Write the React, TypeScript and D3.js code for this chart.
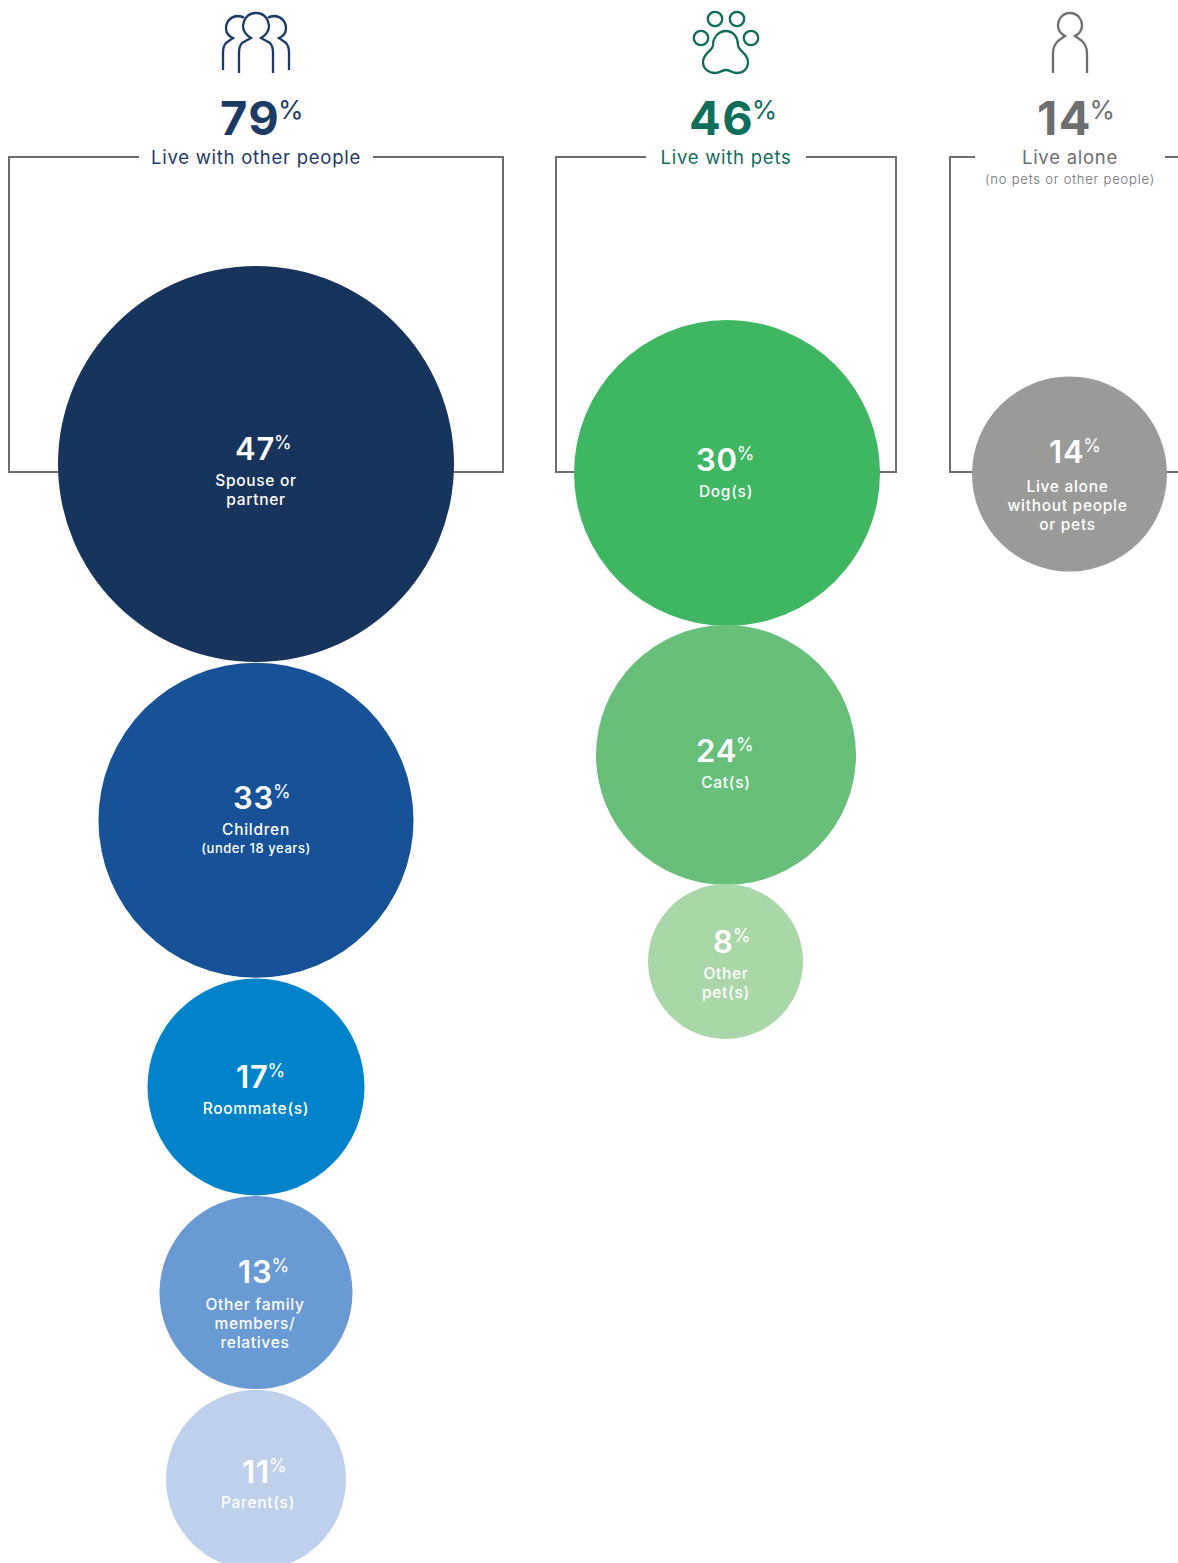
import React, { useEffect, useRef } from "react";
import * as d3 from "d3";

// circle values, top to bottom in each column
const peopleLabels = [["Spouse or", "partner"], ["Children", "(under 18 years)"], ["Roommate(s)"], ["Other family", "members/", "relatives"], ["Parent(s)"]];
const peopleValues = [47, 33, 17, 13, 11];
const petLabels = [["Dog(s)"], ["Cat(s)"], ["Other", "pet(s)"]];
const petValues = [30, 24, 8];
const aloneLabels = [["Live alone", "without people", "or pets"]];
const aloneValues = [14];

const headerValues = [79, 46, 14];
const headerLabels = ["Live with other people", "Live with pets", "Live alone"];

const FONT = "Inter, 'Open Sans', sans-serif";

// the circle areas in the source are not strictly proportional, so read the radii off as a scale
const radius = d3
  .scaleLinear()
  .domain([8, 11, 13, 14, 17, 24, 30, 33, 47])
  .range([77.5, 90, 96.5, 97.5, 108.5, 130, 153, 157.5, 198]);

const columns = [
  {
    values: peopleValues, labels: peopleLabels,
    colors: ["#17345c", "#175197", "#0083cb", "#6a9ad3", "#bed0ec"],
    cx: [256, 256, 256, 256, 256], top: 266, gap: 0.7,
    numX: [236, 234, 237, 239, 243], numDy: [-4, -11.5, 1, -10, 3.5],
    labelX: [256, 256, 256, 255, 258], labelDy: [26, 26, 26, 27, 25],
    head: 256, headX: 221, color: "#1c3a66", box: [9, 503, 472], gapX: [139, 373],
  },
  {
    values: petValues, labels: petLabels,
    colors: ["#3fb762", "#67bf7a", "#aad7a8"],
    cx: [727, 726, 725.5], top: 320, gap: -1,
    numX: [697, 697, 714], numDy: [-2, 7, -9],
    labelX: [726, 726, 726], labelDy: [26, 26, 26],
    head: 726, headX: 690, color: "#0f6e5a", box: [556, 896, 472], gapX: [646, 806],
  },
  {
    values: aloneValues, labels: aloneLabels,
    colors: ["#9a9a98"],
    cx: [1069.5], top: 376.5, gap: 0,
    numX: [1050], numDy: [-11],
    labelX: [1067.5], labelDy: [28.5],
    head: 1070, headX: 1038, color: "#6d6e70", box: [950, 1240, 472], gapX: [975, 1165],
  },
];

const App = () => {
  const svgRef = useRef<SVGSVGElement>(null);

  useEffect(() => {
    const svg = d3.select(svgRef.current);
    svg.selectAll("*").remove();

    // brackets behind the circles
    columns.forEach((c) => {
      const [x0, x1, yb] = c.box;
      const path = d3.path();
      path.moveTo(c.gapX[0], 157);
      path.lineTo(x0, 157);
      path.lineTo(x0, yb);
      path.lineTo(x1, yb);
      path.lineTo(x1, 157);
      path.lineTo(c.gapX[1], 157);
      svg.append("path").attr("d", path.toString()).attr("fill", "none").attr("stroke", "#6d6e70").attr("stroke-width", 2);
    });

    // headers
    columns.forEach((c, i) => {
      const g = svg.append("g").attr("font-family", FONT).attr("fill", c.color);
      const t = g.append("text").attr("x", c.headX - 1).attr("y", 135);
      t.append("tspan").attr("font-size", 47).attr("font-weight", 700).attr("letter-spacing", 1.5).text(headerValues[i]);
      t.append("tspan").attr("font-size", 26).attr("font-weight", 400).attr("dy", -16).attr("dx", -2.5).text("%");
      g.append("text")
        .attr("x", c.head)
        .attr("y", 163.5)
        .attr("text-anchor", "middle")
        .attr("font-size", 18.5)
        .attr("font-weight", 400)
        .attr("letter-spacing", 0.75)
        .text(headerLabels[i]);
    });
    svg.append("text").attr("x", 1070).attr("y", 184).attr("text-anchor", "middle").attr("font-family", FONT).attr("font-size", 13).attr("font-weight", 300).attr("letter-spacing", 0.8).attr("fill", "#6d6e70").text("(no pets or other people)");

    // circles stacked downward in each column
    columns.forEach((c) => {
      let y = c.top;
      c.values.forEach((v, i) => {
        const r = radius(v);
        const cy = y + r;
        y = cy + r + c.gap;
        const g = svg.append("g").attr("font-family", FONT).attr("fill", "#fff");
        g.append("circle").attr("cx", c.cx[i]).attr("cy", cy).attr("r", r).attr("fill", c.colors[i]);
        const base = cy + c.numDy[i];
        const t = g.append("text").attr("x", c.numX[i] - 1).attr("y", base);
        t.append("tspan").attr("font-size", 31).attr("font-weight", 600).attr("letter-spacing", 0.8).text(v);
        t.append("tspan").attr("font-size", 18).attr("font-weight", 400).attr("dy", -11).attr("dx", -1).text("%");
        c.labels[i].forEach((line, k) => {
          const small = line.startsWith("(");
          g.append("text")
            .attr("x", c.labelX[i])
            .attr("y", base + c.labelDy[i] + k * 19.3 - (small ? 1 : 0))
            .attr("text-anchor", "middle")
            .attr("font-size", small ? 13 : 15.5)
            .attr("font-weight", 500)
            .attr("letter-spacing", small ? 0.55 : 0.7)
            .text(line);
        });
      });
    });

    // icons
    const icon = (x: number, y: number, color: string) =>
      svg.append("g").attr("transform", `translate(${x},${y})`).attr("fill", "none").attr("stroke", color).attr("stroke-width", 2.3);
    const people = icon(180, 0, "#1c3a66");
    people.append("path").attr("d", "M76 13C66 13 63 22 63 26C63 31 66 35 71 38L62 43C60 45 59 49 59 53V73M76 13C86 13 89 22 89 26C89 31 86 35 81 38L90 43C92 45 93 49 93 53V73");
    people.append("path").attr("d", "M64 18C62 16 59 16 57 16C50 17 46 22 46 28C46 33 48 36 53 38L46 43C44 45 43 49 43 53V70M88 18C90 16 93 16 95 16C102 17 106 22 106 28C106 33 104 36 99 38L106 43C108 45 109 49 109 53V70");
    const paw = icon(650, 0, "#0f6e5a");
    paw.append("circle").attr("cx", 65).attr("cy", 19).attr("r", 7.2);
    paw.append("circle").attr("cx", 87).attr("cy", 19).attr("r", 7.2);
    paw.append("circle").attr("cx", 51).attr("cy", 38).attr("r", 7.2);
    paw.append("circle").attr("cx", 101).attr("cy", 38).attr("r", 7.2);
    paw.append("path").attr("d", "M76 31C68 31 63 38 63 45C63 51 53 53 53 62C53 69 59 73 65 73C70 73 72 70 76 70C80 70 82 73 87 73C93 73 98 69 98 62C98 53 88 51 88 45C88 38 84 31 76 31Z");
    const person = icon(940, 0, "#6d6e70");
    person.append("path").attr("d", "M130 13C122 13 118 20 118 25C118 30 121 34 125 36L118 41C115 44 113 48 113 53V73M130 13C138 13 142 20 142 25C142 30 139 34 135 36L142 41C145 44 147 48 147 53V73");
  }, []);

  return <svg ref={svgRef} width={1178} height={1563} style={{ position: "absolute", left: 0, top: 0 }} />;
};

export default App;
